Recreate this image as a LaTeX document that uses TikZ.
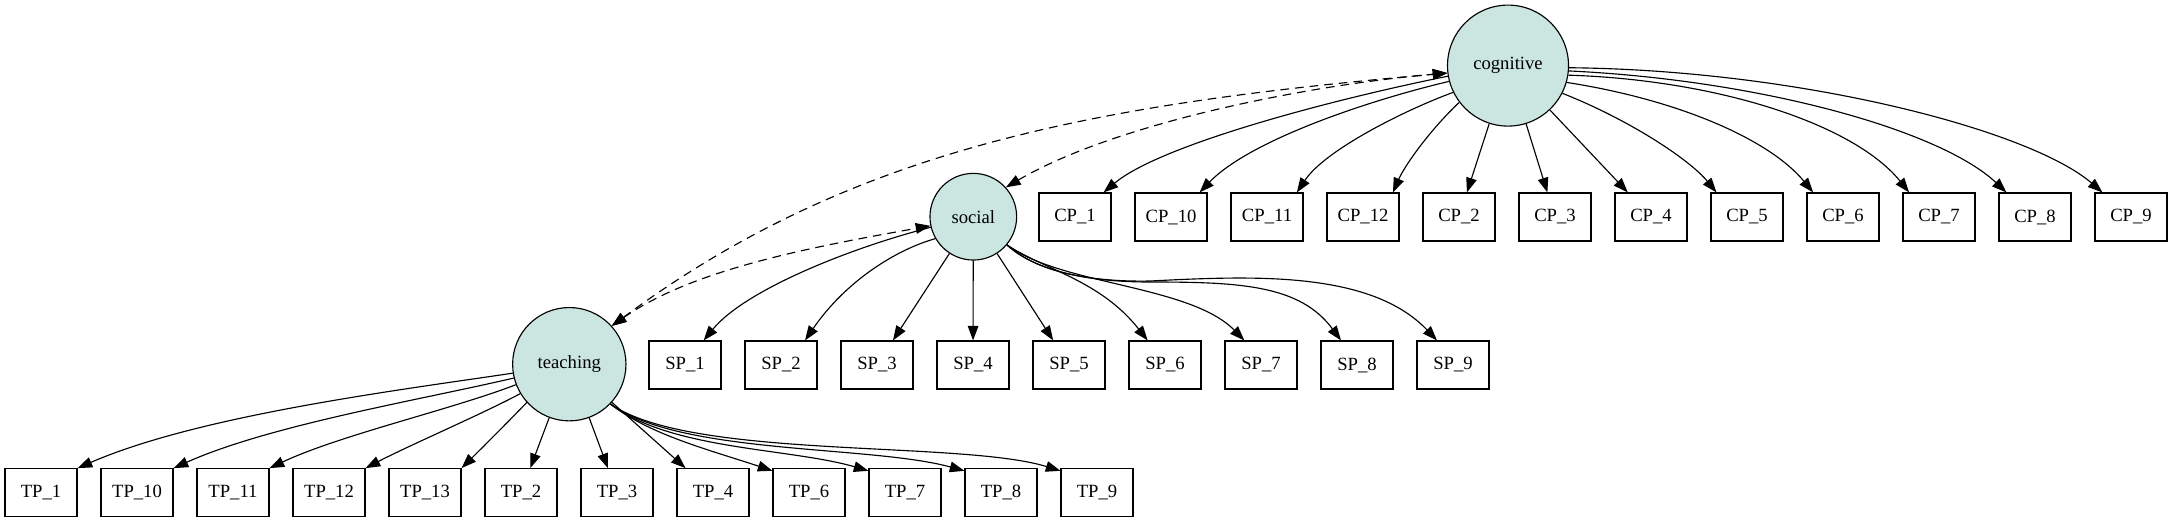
\documentclass[tikz,border=0pt]{standalone}
\usepackage{fontspec}
\setmainfont{Liberation Serif}
\usetikzlibrary{arrows.meta}
\definecolor{latfill}{HTML}{CBE6E0}
\tikzset{
  lat/.style={circle, draw=black, fill=latfill, line width=0.85pt, inner sep=0pt,
    font=\fontsize{14pt}{16pt}\selectfont},
  obs/.style={rectangle, draw=black, line width=0.85pt, minimum width=54pt,
    minimum height=36pt, inner sep=0pt, font=\fontsize{14pt}{16pt}\selectfont},
  load/.style={-{Triangle[length=11pt,width=8pt]}, line width=0.85pt},
  cov/.style={{Triangle[length=11pt,width=8pt]}-{Triangle[length=11pt,width=8pt]},
    line width=0.85pt, dash pattern=on 6.5pt off 4.5pt},
}
\begin{document}
\begin{tikzpicture}[x=0.75pt, y=-0.75pt]
\useasboundingbox (0,0) rectangle (2173,522);
% latent nodes
\node[lat, minimum size=90.75pt] (cognitive) at (1508,65.6) {cognitive};
\node[lat, minimum size=65pt] (social) at (973.3,216.7) {social};
\node[lat, minimum size=85pt] (teaching) at (569.3,364.2) {teaching};
% CP row
\node[obs] (CP1)  at (1075,217) {CP\_1};
\node[obs] (CP10) at (1171,217) {CP\_10};
\node[obs] (CP11) at (1267,217) {CP\_11};
\node[obs] (CP12) at (1363,217) {CP\_12};
\node[obs] (CP2)  at (1459,217) {CP\_2};
\node[obs] (CP3)  at (1555,217) {CP\_3};
\node[obs] (CP4)  at (1651,217) {CP\_4};
\node[obs] (CP5)  at (1747,217) {CP\_5};
\node[obs] (CP6)  at (1843,217) {CP\_6};
\node[obs] (CP7)  at (1939,217) {CP\_7};
\node[obs] (CP8)  at (2035,217) {CP\_8};
\node[obs] (CP9)  at (2131,217) {CP\_9};
% SP row
\node[obs] (SP1) at (685,365) {SP\_1};
\node[obs] (SP2) at (781,365) {SP\_2};
\node[obs] (SP3) at (877,365) {SP\_3};
\node[obs] (SP4) at (973,365) {SP\_4};
\node[obs] (SP5) at (1069,365) {SP\_5};
\node[obs] (SP6) at (1165,365) {SP\_6};
\node[obs] (SP7) at (1261,365) {SP\_7};
\node[obs] (SP8) at (1357,365) {SP\_8};
\node[obs] (SP9) at (1453,365) {SP\_9};
% TP row
\node[obs] (TP1)  at (41,492.7)   {TP\_1};
\node[obs] (TP10) at (137,492.7)  {TP\_10};
\node[obs] (TP11) at (233,492.7)  {TP\_11};
\node[obs] (TP12) at (329,492.7)  {TP\_12};
\node[obs] (TP13) at (425,492.7)  {TP\_13};
\node[obs] (TP2)  at (521,492.7)  {TP\_2};
\node[obs] (TP3)  at (617,492.7)  {TP\_3};
\node[obs] (TP4)  at (713,492.7)  {TP\_4};
\node[obs] (TP6)  at (809,492.7)  {TP\_6};
\node[obs] (TP7)  at (905,492.7)  {TP\_7};
\node[obs] (TP8)  at (1001,492.7) {TP\_8};
\node[obs] (TP9)  at (1097,492.7) {TP\_9};
% cognitive loadings
\draw[load] (cognitive.190) .. controls (1330,100) and (1160,145) .. ([xshift=-6pt]CP1.north east);
\draw[load] (cognitive.195) .. controls (1370,100) and (1250,140) .. ([xshift=-6pt]CP10.north east);
\draw[load] (cognitive.206) .. controls (1405,110) and (1325,150) .. ([xshift=-5pt]CP11.north east);
\draw[load] (cognitive.217) .. controls (1430,130) and (1405,165) .. ([xshift=-5pt]CP12.north east);
\draw[load] (cognitive) -- (CP2);
\draw[load] (cognitive) -- (CP3);
\draw[load] (cognitive) -- (CP4);
\draw[load] (cognitive.-27) .. controls (1630,120) and (1690,160) .. ([xshift=4.5pt]CP5.north west);
\draw[load] (cognitive.-16) .. controls (1680,100) and (1770,140) .. ([xshift=5pt]CP6.north west);
\draw[load] (cognitive.-9) .. controls (1720,80) and (1855,125) .. ([xshift=5pt]CP7.north west);
\draw[load] (cognitive.-5) .. controls (1760,80) and (1940,130) .. ([xshift=6pt]CP8.north west);
\draw[load] (cognitive.-2) .. controls (1800,70) and (2030,130) .. ([xshift=6pt]CP9.north west);
% social loadings
\draw[load] (social.194) .. controls (850,248) and (745,290) .. ([xshift=14pt]SP1.north);
\draw[load] (social.210) .. controls (895,250) and (845,282) .. ([xshift=18pt]SP2.north);
\draw[load] (social) -- (SP3);
\draw[load] (social) -- (SP4);
\draw[load] (social) -- (SP5);
\draw[load] (social.-40) .. controls (1045,270) and (1100,280) .. ([xshift=-13pt]SP6.north);
\draw[load] (social.-40) .. controls (1060,285) and (1190,285) .. ([xshift=-12.5pt]SP7.north);
\draw[load] (social.-40) .. controls (1040,275) and (1100,282) .. (1150,282)
  .. controls (1240,282) and (1300,285) .. ([xshift=-12pt]SP8.north);
\draw[load] (social.-40) .. controls (1040,275) and (1100,282) .. (1150,281)
  .. controls (1250,276) and (1370,270) .. ([xshift=-12pt]SP9.north);
% teaching loadings
\draw[load] (teaching.189) .. controls (400,390) and (200,415) .. (TP1.north east);
\draw[load] (teaching.194) .. controls (420,400) and (270,425) .. (TP10.north east);
\draw[load] (teaching.201) .. controls (450,410) and (340,435) .. (TP11.north east);
\draw[load] (teaching.211) .. controls (480,415) and (410,445) .. (TP12.north east);
\draw[load] (teaching.222) .. controls (505,425) and (480,450) .. (TP13.north east);
\draw[load] (teaching) -- (TP2);
\draw[load] (teaching) -- (TP3);
\draw[load] (teaching) -- (TP4);
\draw[load] (teaching.-44) .. controls (650,435) and (710,450) .. ([yshift=-2pt]TP6.north west);
\draw[load] (teaching.-44) .. controls (670,450) and (790,448) .. ([yshift=-2pt]TP7.north west);
\draw[load] (teaching.-44) .. controls (680,455) and (870,445) .. ([yshift=-2pt]TP8.north west);
\draw[load] (teaching.-44) .. controls (690,460) and (960,440) .. ([yshift=-2pt]TP9.north west);
% covariances
\draw[cov] (teaching.42) .. controls (855,146) and (1099,104) .. (cognitive.187);
\draw[cov] (teaching.42) .. controls (693,269) and (812,247) .. (social.192);
\draw[cov] (social.42) .. controls (1112,125) and (1299,86) .. (cognitive.187);
\end{tikzpicture}
\end{document}
